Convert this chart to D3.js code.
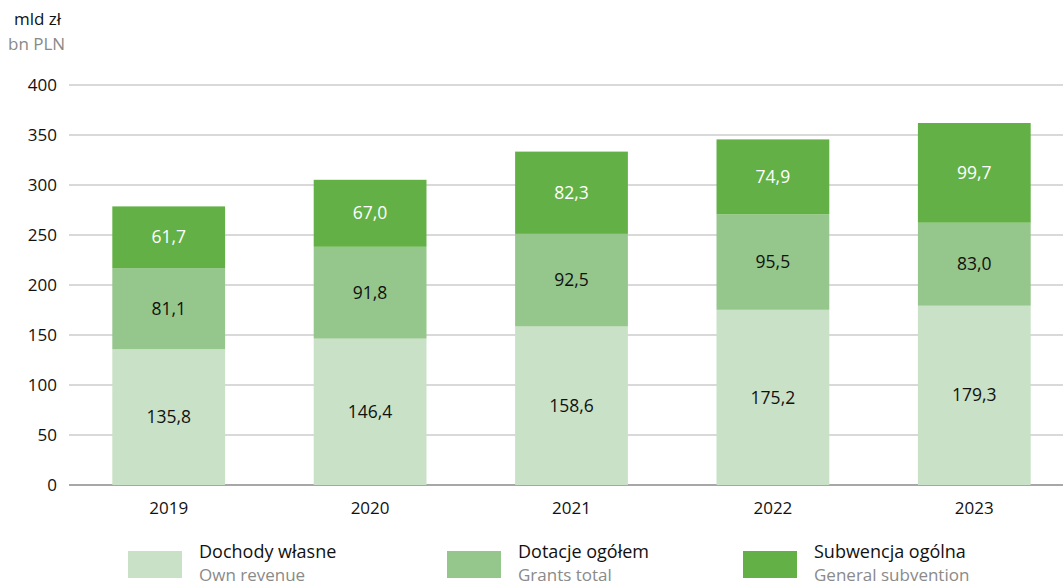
<!DOCTYPE html>
<html>
<head>
<meta charset="utf-8">
<script src="https://cdn.jsdelivr.net/npm/d3@7"></script>
<style>
  body { margin: 0; background: #fff; }
  svg text { font-family: "Open Sans", "Noto Sans", sans-serif; }
</style>
</head>
<body>
<div id="chart"></div>
<script>
// data
var years = ["2019", "2020", "2021", "2022", "2023"];
var ownRevenue = [135.8, 146.4, 158.6, 175.2, 179.3];
var grants = [81.1, 91.8, 92.5, 95.5, 83.0];
var subvention = [61.7, 67.0, 82.3, 74.9, 99.7];
var yTicks = [0, 50, 100, 150, 200, 250, 300, 350, 400];
var seriesPl = ["Dochody własne", "Dotacje ogółem", "Subwencja ogólna"];
var seriesEn = ["Own revenue", "Grants total", "General subvention"];

var colors = ["#c9e1c6", "#95c68b", "#63b146"];
var labelColors = ["#111", "#111", "#fff"];

var width = 1063, height = 584;

var svg = d3.select("#chart").append("svg")
    .attr("width", width)
    .attr("height", height);

var x = d3.scaleBand().domain(years).range([68, 1075])
    .paddingInner(0.44).paddingOuter(0.22);
var y = d3.scaleLinear().domain([0, 400]).range([485, 85]);

// gridlines
svg.append("g").selectAll("line")
    .data(yTicks)
    .enter().append("line")
    .attr("x1", 69).attr("x2", width)
    .attr("y1", function(d){ return y(d); })
    .attr("y2", function(d){ return y(d); })
    .style("stroke", function(d){ return d == 0 ? "#8a8a8a" : "#b3b3b3"; })
    .style("stroke-width", function(d){ return d == 0 ? 1.5 : 1.2; });

// y tick labels
svg.append("g").selectAll("text")
    .data(yTicks)
    .enter().append("text")
    .attr("x", 57)
    .attr("y", function(d){ return y(d); })
    .attr("dy", "0.35em")
    .attr("text-anchor", "end")
    .style("font-size", "17px")
    .style("fill", "#111")
    .text(function(d){ return d; });

// unit labels
svg.append("text").attr("x", 14).attr("y", 25)
    .style("font-size", "17px").style("fill", "#111").text("mld zł");
svg.append("text").attr("x", 8).attr("y", 50)
    .style("font-size", "17px").style("fill", "#8a8a8a").text("bn PLN");

// stacked bars
var rows = years.map(function(yr, i){
  return { year: yr, own: ownRevenue[i], grants: grants[i], sub: subvention[i] };
});
var stack = d3.stack().keys(["own", "grants", "sub"])(rows);

var fmt = function(v){ return d3.format(".1f")(v).replace(".", ","); };

var layers = svg.append("g").selectAll("g")
    .data(stack)
    .enter().append("g");

layers.selectAll("rect")
    .data(function(d){ return d; })
    .enter().append("rect")
    .attr("x", function(d){ return x(d.data.year); })
    .attr("y", function(d){ return y(d[1]); })
    .attr("width", x.bandwidth())
    .attr("height", function(d){ return y(d[0]) - y(d[1]); })
    .style("fill", function(){ return colors[d3.select(this.parentNode).datum().index]; });

layers.each(function(layer){
  d3.select(this).selectAll("text")
    .data(layer)
    .enter().append("text")
    .attr("x", function(d){ return x(d.data.year) + x.bandwidth() / 2; })
    .attr("y", function(d){ return y((d[0] + d[1]) / 2); })
    .attr("dy", "0.35em")
    .attr("text-anchor", "middle")
    .style("font-size", "17.5px")
    .style("fill", labelColors[layer.index])
    .text(function(d){ return fmt(d[1] - d[0]); });
});

// year labels
svg.append("g").selectAll("text")
    .data(years)
    .enter().append("text")
    .attr("x", function(d){ return x(d) + x.bandwidth() / 2; })
    .attr("y", 514)
    .attr("text-anchor", "middle")
    .style("font-size", "17px")
    .style("fill", "#111")
    .text(function(d){ return d; });

// legend
var legendX = [128, 447, 743];
var legend = svg.append("g").selectAll("g")
    .data(seriesPl)
    .enter().append("g")
    .attr("transform", function(d, i){ return "translate(" + legendX[i] + ",551)"; });

legend.append("rect")
    .attr("width", 54).attr("height", 27)
    .style("fill", function(d, i){ return colors[i]; });
legend.append("text")
    .attr("x", 71).attr("y", 7)
    .style("font-size", "18px").style("fill", "#111")
    .text(function(d){ return d; });
legend.append("text")
    .attr("x", 71).attr("y", 30)
    .style("font-size", "17px").style("fill", "#8a8a8a")
    .text(function(d, i){ return seriesEn[i]; });
</script>
</body>
</html>
